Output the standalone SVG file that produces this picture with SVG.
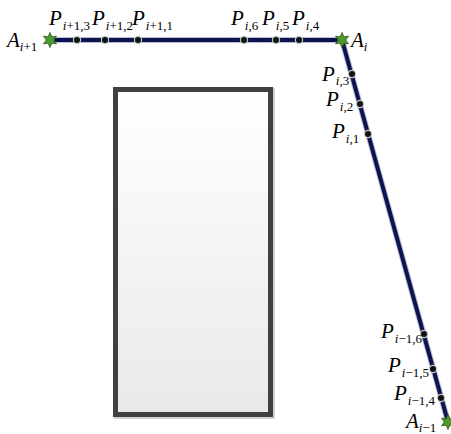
<svg xmlns="http://www.w3.org/2000/svg" width="451" height="434" viewBox="0 0 451 434">
<style>
.lbl{font-family:"Liberation Serif","Times New Roman",serif;font-style:italic;font-size:21px;fill:#000}
.sub{font-size:13px}
.up{font-style:normal}
.pt{fill:#111}
.halo{fill:#c8c8c8}
.star{fill:#4c9a2e;stroke:#2d5a1a;stroke-width:0.8}
</style>
<defs>
<linearGradient id="g" x1="0" y1="0" x2="0" y2="1">
<stop offset="0" stop-color="#ffffff"/>
<stop offset="1" stop-color="#e9e9e9"/>
</linearGradient>
<polygon id="st" class="star" points="0,-7.5 1.9,-3.25 6.5,-3.75 3.75,0 6.5,3.75 1.9,3.25 0,7.5 -1.9,3.25 -6.5,3.75 -3.75,0 -6.5,-3.75 -1.9,-3.25"/>
<g id="dot"><circle r="4.2" class="halo"/><circle r="3" class="pt"/></g>
</defs>
<g id="box">
<rect x="116.5" y="90.5" width="156" height="326" fill="none" stroke="#d0d0d0" stroke-width="5"/>
<rect x="115.5" y="89.5" width="155" height="325" fill="url(#g)" stroke="#404040" stroke-width="5"/>
</g>
<g id="connectors">
<polyline points="50,40 342,40 448,422" fill="none" stroke="#b8bccc" stroke-width="6" stroke-linejoin="round"/>
<polyline points="50,40 342,40 448,422" fill="none" stroke="#0c1450" stroke-width="4" stroke-linejoin="round"/>
</g>
<g id="A_ip1"><use href="#st" x="50" y="40"/>
<text class="lbl" x="7" y="47">A<tspan class="sub" dy="4">i</tspan><tspan class="sub up">+1</tspan></text></g>
<g id="P_ip1_3"><use href="#dot" x="77" y="40"/>
<text class="lbl" x="49" y="25">P<tspan class="sub" dy="5" dx="1">i</tspan><tspan class="sub up">+1,3</tspan></text></g>
<g id="P_ip1_2"><use href="#dot" x="105" y="40"/>
<text class="lbl" x="92" y="25">P<tspan class="sub" dy="5" dx="1">i</tspan><tspan class="sub up">+1,2</tspan></text></g>
<g id="P_ip1_1"><use href="#dot" x="138" y="40"/>
<text class="lbl" x="132" y="25">P<tspan class="sub" dy="5" dx="1">i</tspan><tspan class="sub up">+1,1</tspan></text></g>
<g id="P_i_6"><use href="#dot" x="244" y="40"/>
<text class="lbl" x="231" y="25">P<tspan class="sub" dy="5" dx="1">i</tspan><tspan class="sub up">,6</tspan></text></g>
<g id="P_i_5"><use href="#dot" x="276" y="40"/>
<text class="lbl" x="262" y="25">P<tspan class="sub" dy="5" dx="1">i</tspan><tspan class="sub up">,5</tspan></text></g>
<g id="P_i_4"><use href="#dot" x="299" y="40"/>
<text class="lbl" x="292" y="25">P<tspan class="sub" dy="5" dx="1">i</tspan><tspan class="sub up">,4</tspan></text></g>
<g id="A_i"><use href="#st" x="342" y="40"/>
<text class="lbl" x="351" y="47">A<tspan class="sub" dy="4">i</tspan></text></g>
<g id="P_i_3"><use href="#dot" x="352" y="74"/>
<text class="lbl" x="322" y="81">P<tspan class="sub" dy="4" dx="1">i</tspan><tspan class="sub up">,3</tspan></text></g>
<g id="P_i_2"><use href="#dot" x="360" y="104"/>
<text class="lbl" x="326" y="106">P<tspan class="sub" dy="5" dx="1">i</tspan><tspan class="sub up">,2</tspan></text></g>
<g id="P_i_1"><use href="#dot" x="368" y="134"/>
<text class="lbl" x="332" y="138">P<tspan class="sub" dy="5" dx="1">i</tspan><tspan class="sub up">,1</tspan></text></g>
<g id="P_im1_6"><use href="#dot" x="424" y="334"/>
<text class="lbl" x="381" y="338">P<tspan class="sub" dy="5" dx="1">i</tspan><tspan class="sub up">−1,6</tspan></text></g>
<g id="P_im1_5"><use href="#dot" x="433" y="369"/>
<text class="lbl" x="388" y="372">P<tspan class="sub" dy="5" dx="1">i</tspan><tspan class="sub up">−1,5</tspan></text></g>
<g id="P_im1_4"><use href="#dot" x="441" y="398"/>
<text class="lbl" x="394" y="400">P<tspan class="sub" dy="5" dx="1">i</tspan><tspan class="sub up">−1,4</tspan></text></g>
<g id="A_im1"><use href="#st" x="448" y="422"/>
<text class="lbl" x="406" y="428">A<tspan class="sub" dy="4">i</tspan><tspan class="sub up">−1</tspan></text></g>
</svg>
